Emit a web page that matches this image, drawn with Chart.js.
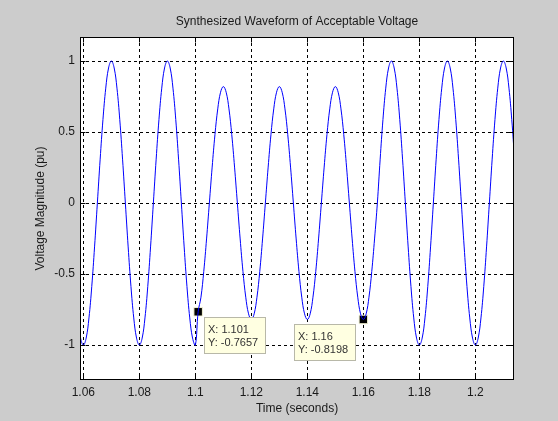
<!DOCTYPE html>
<html><head><meta charset="utf-8">
<script src="https://cdn.jsdelivr.net/npm/chart.js@4/dist/chart.umd.min.js"></script>
<style>html,body{margin:0;padding:0;background:#cccccc;overflow:hidden}</style>
</head><body>
<canvas id="c" width="558" height="421"></canvas>
<script>
// ---- data ----
const timeSeconds = [
1.058,1.059,
1.060,1.061,1.062,1.063,1.064,1.065,1.066,1.067,1.068,1.069,1.070,1.071,1.072,1.073,1.074,1.075,1.076,1.077,1.078,1.079,
1.080,1.081,1.082,1.083,1.084,1.085,1.086,1.087,1.088,1.089,1.090,1.091,1.092,1.093,1.094,1.095,1.096,1.097,1.098,1.099,
1.100,1.101,1.102,1.103,1.104,1.105,1.106,1.107,1.108,1.109,1.110,1.111,1.112,1.113,1.114,1.115,1.116,1.117,1.118,1.119,
1.120,1.121,1.122,1.123,1.124,1.125,1.126,1.127,1.128,1.129,1.130,1.131,1.132,1.133,1.134,1.135,1.136,1.137,1.138,1.139,
1.140,1.141,1.142,1.143,1.144,1.145,1.146,1.147,1.148,1.149,1.150,1.151,1.152,1.153,1.154,1.155,1.156,1.157,1.158,1.159,
1.160,1.161,1.162,1.163,1.164,1.165,1.166,1.167,1.168,1.169,1.170,1.171,1.172,1.173,1.174,1.175,1.176,1.177,1.178,1.179,
1.180,1.181,1.182,1.183,1.184,1.185,1.186,1.187,1.188,1.189,1.190,1.191,1.192,1.193,1.194,1.195,1.196,1.197,1.198,1.199,
1.200,1.201,1.202,1.203,1.204,1.205,1.206,1.207,1.208,1.209,1.210,1.211,1.212,1.213,1.214
];
const voltagePu = [
-0.809,-0.951,
-1,-0.951,-0.809,-0.588,-0.309,0,0.309,0.588,0.809,0.951,1,0.951,0.809,0.588,0.309,0,-0.309,-0.588,-0.809,-0.951,
-1,-0.951,-0.809,-0.588,-0.309,0,0.309,0.588,0.809,0.951,1,0.951,0.809,0.588,0.309,0,-0.309,-0.588,-0.809,-0.951,
-1,-0.766,-0.663,-0.482,-0.253,0,0.253,0.482,0.663,0.780,0.82,0.780,0.663,0.482,0.253,0,-0.253,-0.482,-0.663,-0.780,
-0.82,-0.780,-0.663,-0.482,-0.253,0,0.253,0.482,0.663,0.780,0.82,0.780,0.663,0.482,0.253,0,-0.253,-0.482,-0.663,-0.780,
-0.82,-0.780,-0.663,-0.482,-0.253,0,0.253,0.482,0.663,0.780,0.82,0.780,0.663,0.482,0.253,0,-0.253,-0.482,-0.663,-0.780,
-0.82,-0.780,-0.663,-0.482,-0.253,0,0.309,0.588,0.809,0.951,1,0.951,0.809,0.588,0.309,0,-0.309,-0.588,-0.809,-0.951,
-1,-0.951,-0.809,-0.588,-0.309,0,0.309,0.588,0.809,0.951,1,0.951,0.809,0.588,0.309,0,-0.309,-0.588,-0.809,-0.951,
-1,-0.951,-0.809,-0.588,-0.309,0,0.309,0.588,0.809,0.951,1,0.951,0.809,0.588,0.309
];
const xTickValues = [1.06,1.08,1.10,1.12,1.14,1.16,1.18,1.20];
const xTickLabels = ['1.06','1.08','1.1','1.12','1.14','1.16','1.18','1.2'];
const yTickValues = [-1,-0.5,0,0.5,1];
const yTickLabels = ['-1','-0.5','0','0.5','1'];
const xLimits = [1.0588, 1.2138];
const yLimits = [-1.246, 1.169];
const dataTipTimes = [1.101, 1.16];
const dataTipValues = [-0.7657, -0.8198];
const dataTipXText = ['1.101', '1.16'];
const dataTipYText = ['-0.7657', '-0.8198'];
const chartTitle = 'Synthesized Waveform of Acceptable Voltage';
const xTitle = 'Time (seconds)';
const yTitle = 'Voltage Magnitude (pu)';

// ---- chart ----
const FONT = "'Liberation Sans', Arial, sans-serif";
const wavePoints = timeSeconds.map((t, i) => ({x: t, y: voltagePu[i]}));
const tipPoints = dataTipTimes.map((t, i) => ({x: t, y: dataTipValues[i]}));

const matlabLook = {
  id: 'matlabLook',
  beforeDraw(chart) {
    const {ctx, chartArea: a} = chart;
    ctx.save();
    ctx.fillStyle = '#cccccc';
    ctx.fillRect(0, 0, chart.width, chart.height);
    ctx.fillStyle = '#ffffff';
    ctx.fillRect(a.left, a.top, a.right - a.left, a.bottom - a.top);
    ctx.restore();
  },
  beforeDatasetsDraw(chart) {
    const {ctx, chartArea: a, scales} = chart;
    ctx.save();
    ctx.strokeStyle = '#000000';
    ctx.lineWidth = 1;
    ctx.setLineDash([3, 3]);
    xTickValues.forEach(v => {
      const x = Math.round(scales.x.getPixelForValue(v)) + 0.5;
      ctx.beginPath(); ctx.moveTo(x, a.top); ctx.lineTo(x, a.bottom); ctx.stroke();
    });
    yTickValues.forEach(v => {
      const y = Math.round(scales.y.getPixelForValue(v)) + 0.5;
      ctx.beginPath(); ctx.moveTo(a.left, y); ctx.lineTo(a.right, y); ctx.stroke();
    });
    ctx.restore();
  },
  afterDatasetsDraw(chart) {
    const {ctx, chartArea: a, scales} = chart;
    ctx.save();
    ctx.strokeStyle = '#000000';
    ctx.lineWidth = 1;
    ctx.setLineDash([]);
    const L = Math.round(a.left) + 0.5, R = Math.round(a.right) - 0.5;
    const T = Math.round(a.top) + 0.5, B = Math.round(a.bottom) - 0.5;
    ctx.strokeRect(L, T, R - L, B - T);
    const tl = 5;
    ctx.beginPath();
    xTickValues.forEach(v => {
      const x = Math.round(scales.x.getPixelForValue(v)) + 0.5;
      ctx.moveTo(x, B); ctx.lineTo(x, B - tl);
      ctx.moveTo(x, T); ctx.lineTo(x, T + tl);
    });
    yTickValues.forEach(v => {
      const y = Math.round(scales.y.getPixelForValue(v)) + 0.5;
      ctx.moveTo(L, y); ctx.lineTo(L + tl, y);
      ctx.moveTo(R, y); ctx.lineTo(R - tl, y);
    });
    ctx.stroke();
    ctx.restore();
  },
  afterDraw(chart) {
    const {ctx, chartArea: a, scales} = chart;
    ctx.save();
    // title
    ctx.fillStyle = '#1a1a1a';
    ctx.font = '12px ' + FONT;
    ctx.textAlign = 'center';
    ctx.textBaseline = 'middle';
    ctx.fillText(chartTitle, (a.left + a.right) / 2, 22);
    // data tips
    ctx.font = '11px ' + FONT;
    ctx.textAlign = 'left';
    dataTipTimes.forEach((t, i) => {
      const px = scales.x.getPixelForValue(t);
      const py = scales.y.getPixelForValue(dataTipValues[i]);
      const w = 62, h = 37;
      const left = i === 0 ? Math.round(px + 6) : Math.round(px - 7 - w);
      const top = Math.round(py + 5);
      ctx.fillStyle = '#ffffe1';
      ctx.fillRect(left, top, w, h);
      ctx.strokeStyle = '#b8b8a8';
      ctx.lineWidth = 1;
      ctx.strokeRect(left + 0.5, top + 0.5, w - 1, h - 1);
      ctx.fillStyle = '#333333';
      ctx.fillText('X: ' + dataTipXText[i], left + 4, top + 12.5);
      ctx.fillText('Y: ' + dataTipYText[i], left + 4, top + 26);
    });
    ctx.restore();
  }
};

new Chart(document.getElementById('c'), {
  type: 'line',
  data: {
    datasets: [
      {
        data: wavePoints,
        borderColor: '#0000ff',
        borderWidth: 1,
        pointRadius: 0,
        tension: 0.4,
        fill: false,
        clip: 0
      },
      {
        type: 'scatter',
        data: tipPoints,
        pointStyle: 'rect',
        pointRadius: 6,
        pointBackgroundColor: '#000000',
        pointBorderColor: '#f4f4d4',
        pointBorderWidth: 1,
        showLine: false,
        clip: false
      }
    ]
  },
  options: {
    responsive: false,
    animation: false,
    devicePixelRatio: 1,
    layout: {padding: {top: 37, right: 44, left: 0, bottom: 0}},
    plugins: {legend: {display: false}, tooltip: {enabled: false}, title: {display: false}},
    scales: {
      x: {
        type: 'linear',
        min: xLimits[0], max: xLimits[1],
        grid: {display: false, drawTicks: false, tickLength: 0},
        border: {display: false},
        afterFit: s => { s.height = 41; },
        afterBuildTicks: s => { s.ticks = xTickValues.map(v => ({value: v})); },
        ticks: {
          autoSkip: false, maxRotation: 0, padding: 5,
          color: '#1a1a1a', font: {family: FONT, size: 12},
          callback: v => xTickLabels[xTickValues.findIndex(t => Math.abs(t - v) < 1e-9)]
        },
        title: {display: true, text: xTitle, color: '#1a1a1a', font: {family: FONT, size: 12}, padding: {top: 0, bottom: 5}}
      },
      y: {
        type: 'linear',
        min: yLimits[0], max: yLimits[1],
        grid: {display: false, drawTicks: false, tickLength: 0},
        border: {display: false},
        afterFit: s => { s.width = 80; },
        afterBuildTicks: s => { s.ticks = yTickValues.map(v => ({value: v})); },
        ticks: {
          padding: 5,
          color: '#1a1a1a', font: {family: FONT, size: 12},
          callback: v => yTickLabels[yTickValues.findIndex(t => Math.abs(t - v) < 1e-9)]
        },
        title: {display: true, text: yTitle, color: '#1a1a1a', font: {family: FONT, size: 12}, padding: {top: 33, bottom: 0}}
      }
    }
  },
  plugins: [matlabLook]
});
</script>
</body></html>
